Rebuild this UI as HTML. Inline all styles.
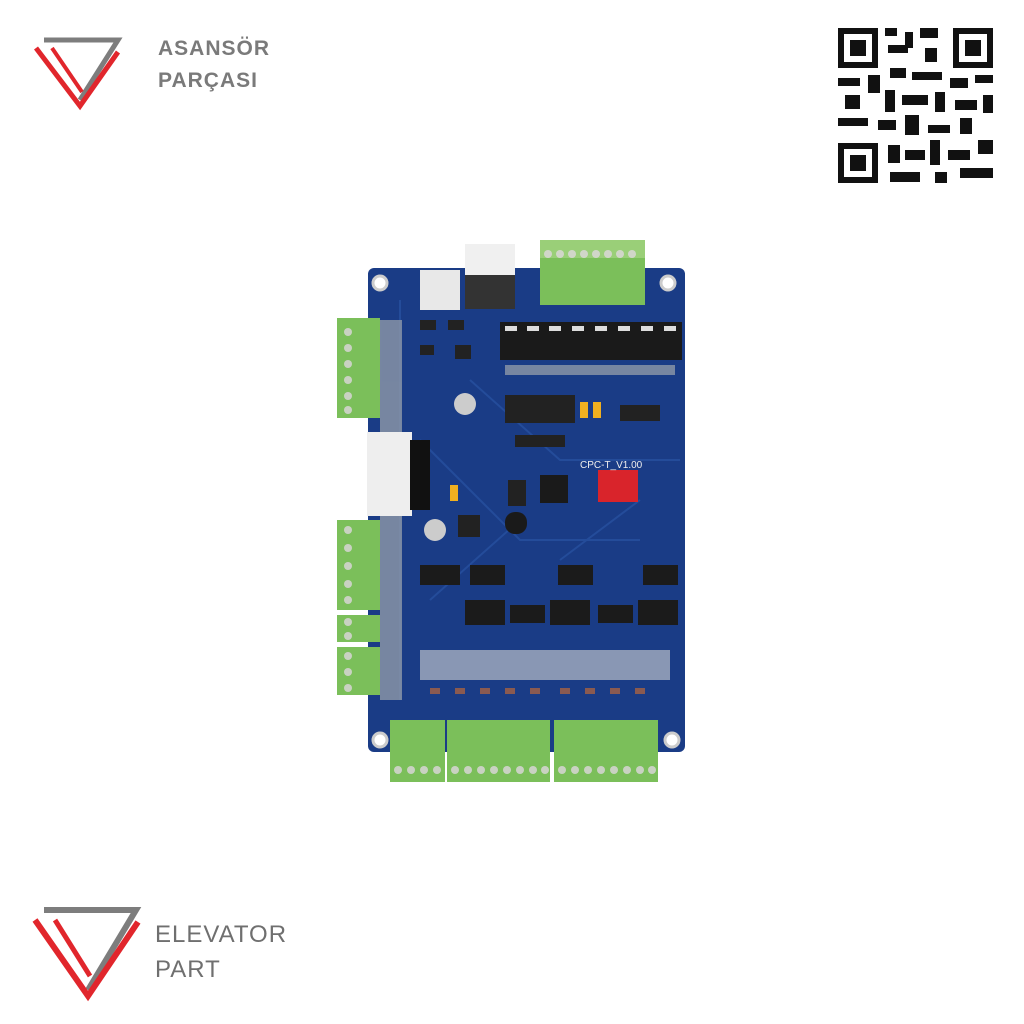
<!DOCTYPE html>
<html><head><meta charset="utf-8"><style>
html,body{margin:0;padding:0;background:#fff;}
body{width:1024px;height:1024px;position:relative;overflow:hidden;font-family:"Liberation Sans",sans-serif;}
.t{position:absolute;color:#7a7a7a;font-weight:bold;letter-spacing:1px;}
.a{position:absolute;}
</style></head><body>
<svg class="a" style="left:0;top:0" width="1024" height="1024">
  <polyline points="44,40 118,40 80,100" fill="none" stroke="#7d7d7d" stroke-width="5"/>
  <polyline points="36,48 80,106 118,52" fill="none" stroke="#e1262c" stroke-width="5"/>
  <line x1="52" y1="48" x2="82" y2="92" stroke="#e1262c" stroke-width="4"/>
  <polyline points="44,910 136,910 88,990" fill="none" stroke="#7d7d7d" stroke-width="6"/>
  <polyline points="35,920 88,996 138,922" fill="none" stroke="#e1262c" stroke-width="6"/>
  <line x1="55" y1="920" x2="90" y2="976" stroke="#e1262c" stroke-width="5"/>

  <rect x="368" y="268" width="317" height="484" rx="6" fill="#1a3c86"/>
  <g stroke="#2c57a8" stroke-width="2" opacity="0.6" fill="none">
    <path d="M420 440 L520 540 L640 540 M470 380 L560 460 L680 460 M430 600 L520 520 M560 560 L640 500 M400 300 L400 700"/>
  </g>
  <circle cx="380" cy="283" r="7" fill="#fff" stroke="#ccc" stroke-width="3"/>
  <circle cx="668" cy="283" r="7" fill="#fff" stroke="#ccc" stroke-width="3"/>
  <circle cx="380" cy="740" r="7" fill="#fff" stroke="#ccc" stroke-width="3"/>
  <circle cx="672" cy="740" r="7" fill="#fff" stroke="#ccc" stroke-width="3"/>
  <rect x="420" y="270" width="40" height="40" fill="#e8e8e8"/>
  <rect x="465" y="244" width="50" height="65" fill="#f0f0f0"/>
  <rect x="465" y="275" width="50" height="34" fill="#333"/>
  <rect x="540" y="240" width="105" height="65" fill="#7bbf5a"/>
  <rect x="540" y="240" width="105" height="18" fill="#9acf78"/>
  <g fill="#d0d6c8"><circle cx="548" cy="254" r="4"/><circle cx="560" cy="254" r="4"/><circle cx="572" cy="254" r="4"/><circle cx="584" cy="254" r="4"/><circle cx="596" cy="254" r="4"/><circle cx="608" cy="254" r="4"/><circle cx="620" cy="254" r="4"/><circle cx="632" cy="254" r="4"/></g>
  <rect x="500" y="322" width="182" height="38" fill="#1a1a1a"/>
  <g fill="#ddd"><rect x="505" y="326" width="12" height="5"/><rect x="527" y="326" width="12" height="5"/><rect x="549" y="326" width="12" height="5"/><rect x="572" y="326" width="12" height="5"/><rect x="595" y="326" width="12" height="5"/><rect x="618" y="326" width="12" height="5"/><rect x="641" y="326" width="12" height="5"/><rect x="664" y="326" width="12" height="5"/></g>
  <g fill="#8e98a8" opacity="0.8"><rect x="505" y="365" width="170" height="10"/><rect x="380" y="320" width="22" height="380"/></g>
  <rect x="337" y="318" width="43" height="100" fill="#7bbf5a"/>
  <rect x="337" y="520" width="43" height="90" fill="#7bbf5a"/>
  <rect x="337" y="615" width="43" height="27" fill="#7bbf5a"/>
  <rect x="337" y="647" width="43" height="48" fill="#7bbf5a"/>
  <g fill="#c9d2c2">
    <circle cx="348" cy="332" r="4"/><circle cx="348" cy="348" r="4"/><circle cx="348" cy="364" r="4"/><circle cx="348" cy="380" r="4"/><circle cx="348" cy="396" r="4"/><circle cx="348" cy="410" r="4"/>
    <circle cx="348" cy="530" r="4"/><circle cx="348" cy="548" r="4"/><circle cx="348" cy="566" r="4"/><circle cx="348" cy="584" r="4"/><circle cx="348" cy="600" r="4"/>
    <circle cx="348" cy="622" r="4"/><circle cx="348" cy="636" r="4"/>
    <circle cx="348" cy="656" r="4"/><circle cx="348" cy="672" r="4"/><circle cx="348" cy="688" r="4"/>
  </g>
  <rect x="367" y="432" width="45" height="84" fill="#eeeeee"/>
  <rect x="410" y="440" width="20" height="70" fill="#111"/>
  <circle cx="465" cy="404" r="11" fill="#ccc"/>
  <circle cx="435" cy="530" r="11" fill="#ccc"/>
  <rect x="505" y="395" width="70" height="28" fill="#222"/>
  <rect x="580" y="402" width="8" height="16" fill="#f0b020"/><rect x="593" y="402" width="8" height="16" fill="#f0b020"/>
  <rect x="450" y="485" width="8" height="16" fill="#f0b020"/>
  <rect x="620" y="405" width="40" height="16" fill="#222"/>
  <g fill="#222"><rect x="420" y="320" width="16" height="10"/><rect x="448" y="320" width="16" height="10"/><rect x="420" y="345" width="14" height="10"/><rect x="455" y="345" width="16" height="14"/><rect x="515" y="435" width="50" height="12"/><rect x="508" y="480" width="18" height="26"/></g>
  <rect x="540" y="475" width="28" height="28" fill="#1a1a1a"/>
  <rect x="505" y="512" width="22" height="22" rx="10" fill="#1a1a1a"/>
  <rect x="458" y="515" width="22" height="22" fill="#222"/>
  <rect x="598" y="470" width="40" height="32" fill="#d9242b"/>
  <text x="580" y="468" font-size="10" fill="#eee" font-family="Liberation Sans">CPC-T_V1.00</text>
  <g fill="#1b1b1b">
    <rect x="420" y="565" width="40" height="20"/><rect x="470" y="565" width="35" height="20"/><rect x="558" y="565" width="35" height="20"/><rect x="643" y="565" width="35" height="20"/>
    <rect x="465" y="600" width="40" height="25"/><rect x="510" y="605" width="35" height="18"/><rect x="550" y="600" width="40" height="25"/><rect x="598" y="605" width="35" height="18"/><rect x="638" y="600" width="40" height="25"/>
  </g>
  <rect x="420" y="650" width="250" height="30" fill="#b9bdc8" opacity="0.7"/>
  <g fill="#8a5a50"><rect x="430" y="688" width="10" height="6"/><rect x="455" y="688" width="10" height="6"/><rect x="480" y="688" width="10" height="6"/><rect x="505" y="688" width="10" height="6"/><rect x="530" y="688" width="10" height="6"/><rect x="560" y="688" width="10" height="6"/><rect x="585" y="688" width="10" height="6"/><rect x="610" y="688" width="10" height="6"/><rect x="635" y="688" width="10" height="6"/></g>
  <rect x="390" y="720" width="55" height="62" fill="#7bbf5a"/>
  <rect x="447" y="720" width="103" height="62" fill="#7bbf5a"/>
  <rect x="554" y="720" width="104" height="62" fill="#7bbf5a"/>
  <g fill="#c9d2c2">
    <circle cx="398" cy="770" r="4"/><circle cx="411" cy="770" r="4"/><circle cx="424" cy="770" r="4"/><circle cx="437" cy="770" r="4"/>
    <circle cx="455" cy="770" r="4"/><circle cx="468" cy="770" r="4"/><circle cx="481" cy="770" r="4"/><circle cx="494" cy="770" r="4"/><circle cx="507" cy="770" r="4"/><circle cx="520" cy="770" r="4"/><circle cx="533" cy="770" r="4"/><circle cx="545" cy="770" r="4"/>
    <circle cx="562" cy="770" r="4"/><circle cx="575" cy="770" r="4"/><circle cx="588" cy="770" r="4"/><circle cx="601" cy="770" r="4"/><circle cx="614" cy="770" r="4"/><circle cx="627" cy="770" r="4"/><circle cx="640" cy="770" r="4"/><circle cx="652" cy="770" r="4"/>
  </g>

  <rect x="838" y="28" width="155" height="155" fill="#fff"/>
  <g fill="#111">
    <rect x="838" y="28" width="40" height="40"/><rect x="953" y="28" width="40" height="40"/><rect x="838" y="143" width="40" height="40"/>
  </g>
  <g fill="#fff"><rect x="844" y="34" width="28" height="28"/><rect x="959" y="34" width="28" height="28"/><rect x="844" y="149" width="28" height="28"/></g>
  <g fill="#111"><rect x="850" y="40" width="16" height="16"/><rect x="965" y="40" width="16" height="16"/><rect x="850" y="155" width="16" height="16"/>
    <rect x="885" y="28" width="12" height="8"/><rect x="905" y="32" width="8" height="16"/><rect x="920" y="28" width="18" height="10"/><rect x="888" y="45" width="20" height="8"/><rect x="925" y="48" width="12" height="14"/>
    <rect x="838" y="78" width="22" height="8"/><rect x="868" y="75" width="12" height="18"/><rect x="890" y="68" width="16" height="10"/><rect x="912" y="72" width="30" height="8"/><rect x="950" y="78" width="18" height="10"/><rect x="975" y="75" width="18" height="8"/>
    <rect x="845" y="95" width="15" height="14"/><rect x="885" y="90" width="10" height="22"/><rect x="902" y="95" width="26" height="10"/><rect x="935" y="92" width="10" height="20"/><rect x="955" y="100" width="22" height="10"/><rect x="983" y="95" width="10" height="18"/>
    <rect x="838" y="118" width="30" height="8"/><rect x="878" y="120" width="18" height="10"/><rect x="905" y="115" width="14" height="20"/><rect x="928" y="125" width="22" height="8"/><rect x="960" y="118" width="12" height="16"/>
    <rect x="888" y="145" width="12" height="18"/><rect x="905" y="150" width="20" height="10"/><rect x="930" y="140" width="10" height="25"/><rect x="948" y="150" width="22" height="10"/><rect x="978" y="140" width="15" height="14"/>
    <rect x="890" y="172" width="30" height="10"/><rect x="935" y="172" width="12" height="11"/><rect x="960" y="168" width="33" height="10"/>
  </g>
</svg>
<div class="t" style="left:158px;top:36px;font-size:21px;line-height:26px;">ASANSÖR</div>
<div class="t" style="left:158px;top:68px;font-size:21px;line-height:26px;">PARÇASI</div>
<div class="t" style="left:155px;top:920px;font-size:24px;line-height:30px;font-weight:normal;color:#6f6f6f;">ELEVATOR</div>
<div class="t" style="left:155px;top:955px;font-size:24px;line-height:30px;font-weight:normal;color:#6f6f6f;">PART</div>
</body></html>
